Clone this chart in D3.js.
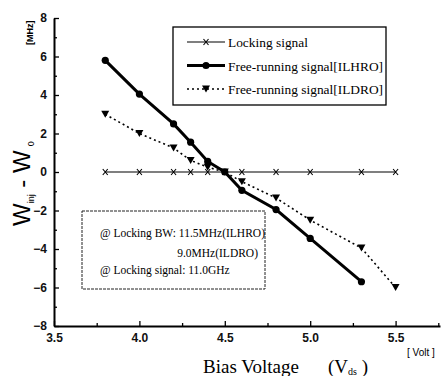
<!DOCTYPE html>
<html>
<head>
<meta charset="utf-8">
<script src="https://cdn.jsdelivr.net/npm/d3@7"></script>
<style>
  body { margin: 0; background: #fff; }
  svg { display: block; }
</style>
</head>
<body>
<svg id="chart" width="446" height="376"></svg>
<script>
// bias voltage (V) for each series
const lockX = [3.8, 4.0, 4.2, 4.3, 4.4, 4.5, 4.6, 4.8, 5.0, 5.3, 5.5]
const lockY = [0, 0, 0, 0, 0, 0, 0, 0, 0, 0, 0]
const ilhroX = [3.8, 4.0, 4.2, 4.3, 4.4, 4.5, 4.6, 4.8, 5.0, 5.3]
const ilhroY = [5.8, 4.05, 2.5, 1.55, 0.55, 0, -0.95, -1.95, -3.45, -5.7]
const ildroX = [3.8, 4.0, 4.2, 4.3, 4.4, 4.5, 4.6, 4.8, 5.0, 5.3, 5.5]
const ildroY = [3.0, 2.0, 1.25, 0.6, 0.25, 0, -0.5, -1.35, -2.5, -3.95, -6.0]
const xTicks = [3.5, 4.0, 4.5, 5.0, 5.5]
const xMinor = [3.75, 4.25, 4.75, 5.25, 5.75]
const yTicks = [-8, -6, -4, -2, 0, 2, 4, 6, 8]
const yMinor = [-7, -5, -3, -1, 1, 3, 5, 7]
const legendLabels = ['Locking signal', 'Free-running signal[ILHRO]', 'Free-running signal[ILDRO]']

const svg = d3.select('#chart')
const serif = "'Liberation Serif', 'Times New Roman', serif"
const sans = "'Liberation Sans', Arial, sans-serif"

const xScale = d3.scaleLinear().domain([3.5, 5.76]).range([54, 440])
const yScale = d3.scaleLinear().domain([-8, 8]).range([326, 18])

// axes, ticks pointing inward
svg.append('g').attr('transform', `translate(0, ${yScale(-8)})`)
  .call(d3.axisBottom(xScale).tickValues(xTicks).tickFormat(d3.format('.1f')).tickSize(-5).tickSizeOuter(0).tickPadding(7))
svg.append('g').attr('transform', `translate(0, ${yScale(-8)})`)
  .call(d3.axisBottom(xScale).tickValues(xMinor).tickFormat('').tickSize(-3).tickSizeOuter(0))
  .select('.domain').remove()

svg.append('g').attr('transform', `translate(${xScale(3.5)}, 0)`)
  .call(d3.axisLeft(yScale).tickValues(yTicks).tickFormat(d3.format('d')).tickSize(-5).tickSizeOuter(0).tickPadding(7))
svg.append('g').attr('transform', `translate(${xScale(3.5)}, 0)`)
  .call(d3.axisLeft(yScale).tickValues(yMinor).tickFormat('').tickSize(-3).tickSizeOuter(0))
  .select('.domain').remove()

svg.selectAll('.domain').attr('stroke-width', 2)
svg.selectAll('.tick line').attr('stroke-width', 1.3)
svg.selectAll('.tick text').attr('font-family', sans).attr('font-size', 12).attr('font-weight', 'bold').attr('fill', '#111')

// series
const line = d3.line().x((d) => xScale(d[0])).y((d) => yScale(d[1]))
const series = [
  { pts: d3.zip(lockX, lockY), width: 1.2, dash: null, marker: 'x' },
  { pts: d3.zip(ilhroX, ilhroY), width: 3, dash: null, marker: 'dot' },
  { pts: d3.zip(ildroX, ildroY), width: 1.6, dash: '2,3', marker: 'tri' }
]

function drawMarker(g, kind, cx, cy) {
  if (kind === 'x') {
    g.append('path').attr('d', `M${cx - 2.5},${cy - 3}L${cx + 2.5},${cy + 3}M${cx + 2.5},${cy - 3}L${cx - 2.5},${cy + 3}`)
      .attr('stroke', '#000').attr('stroke-width', 1.1)
  } else if (kind === 'dot') {
    g.append('circle').attr('cx', cx).attr('cy', cy).attr('r', 3.6).attr('fill', '#000')
  } else {
    g.append('path').attr('d', `M${cx - 4},${cy - 3.5}L${cx + 4},${cy - 3.5}L${cx},${cy + 3.5}Z`).attr('fill', '#000')
  }
}

series.forEach((s) => {
  svg.append('path').datum(s.pts).attr('d', line).attr('fill', 'none')
    .attr('stroke', '#000').attr('stroke-width', s.width).attr('stroke-dasharray', s.dash)
  const g = svg.append('g')
  s.pts.forEach((p) => drawMarker(g, s.marker, xScale(p[0]), yScale(p[1])))
})

// legend
const legend = svg.append('g')
legend.append('rect').attr('x', 173).attr('y', 27).attr('width', 213).attr('height', 78)
  .attr('fill', '#fff').attr('stroke', '#000').attr('stroke-width', 1.3)
legendLabels.forEach((label, i) => {
  const ly = 42 + i * 23.5
  const s = series[i]
  legend.append('line').attr('x1', 187).attr('x2', 225).attr('y1', ly).attr('y2', ly)
    .attr('stroke', '#000').attr('stroke-width', s.width).attr('stroke-dasharray', s.dash)
  drawMarker(legend, s.marker, 206, ly)
  legend.append('text').attr('x', 228).attr('y', ly + 5).text(label)
    .attr('font-family', serif).attr('font-size', 13.4).attr('fill', '#000')
})

// annotation box
const note = svg.append('g').attr('font-family', serif).attr('font-size', 11.5).attr('fill', '#000')
note.append('rect').attr('x', 82).attr('y', 211).attr('width', 183).attr('height', 78)
  .attr('fill', 'none').attr('stroke', '#222').attr('stroke-width', 1).attr('stroke-dasharray', '3,1')
note.append('text').attr('x', 100).attr('y', 237).text('@ Locking BW: 11.5MHz(ILHRO)')
note.append('text').attr('x', 258).attr('y', 257).attr('text-anchor', 'end').text('9.0MHz(ILDRO)')
note.append('text').attr('x', 100).attr('y', 274).text('@ Locking signal: 11.0GHz')

// y label
const yl = svg.append('text').attr('transform', 'translate(30, 226) rotate(-90)')
  .attr('font-family', sans).attr('font-size', 24).attr('fill', '#000')
yl.append('tspan').text('W')
yl.append('tspan').attr('font-size', 9).attr('dy', 4).text('inj')
yl.append('tspan').attr('dy', -4).text(' - W')
yl.append('tspan').attr('font-size', 9).attr('dy', 4).attr('dx', 4).text('0')

svg.append('text').attr('transform', 'translate(33, 45) rotate(-90)')
  .attr('font-family', sans).attr('font-size', 9).attr('font-weight', 'bold').text('[MHz]')

// x label
svg.append('text').attr('x', 203).attr('y', 373).attr('font-family', serif).attr('font-size', 19).text('Bias Voltage')
const vl = svg.append('text').attr('x', 328).attr('y', 373).attr('font-family', serif).attr('font-size', 19)
vl.append('tspan').text('(V')
vl.append('tspan').attr('font-size', 10).attr('dy', 2).text('ds')
vl.append('tspan').attr('dy', -2).text(' )')
svg.append('text').attr('x', 407).attr('y', 356).attr('font-family', sans).attr('font-size', 10).text('[ Volt ]')
</script>
</body>
</html>
